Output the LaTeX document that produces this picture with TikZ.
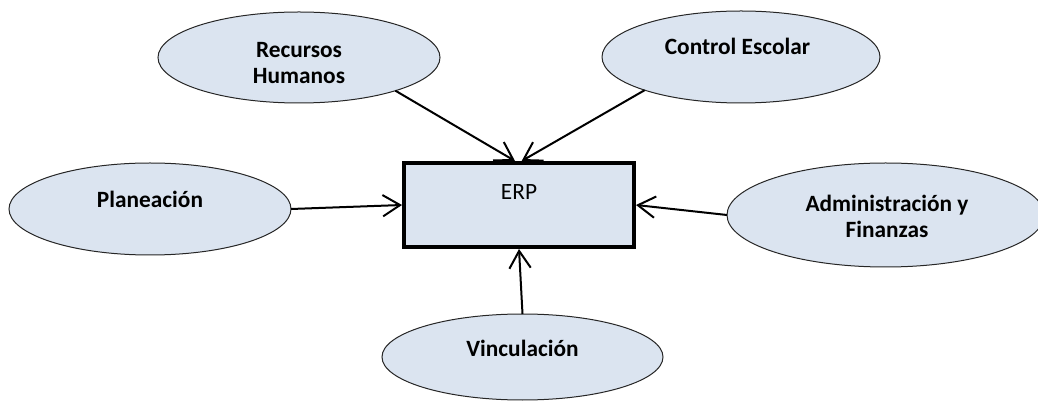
\documentclass[tikz,border=0pt]{standalone}
\usepackage{fontspec}
\setmainfont{Carlito}
\usetikzlibrary{arrows.meta,shapes.geometric}
\definecolor{fillblue}{HTML}{DBE4F0}
\begin{document}
\begin{tikzpicture}[x=0.75pt,y=-0.75pt,
  bubble/.style={ellipse,draw=black!85,line width=0.75pt,fill=fillblue,inner sep=0pt,outer sep=0pt},
  lbl/.style={font=\fontsize{17.5}{19.5}\selectfont\bfseries,inner sep=0pt,anchor=base,align=center},
  erplbl/.style={font=\fontsize{17.5}{19.5}\selectfont,inner sep=0pt,anchor=base},
  conn/.style={line width=1.5pt,-{Straight Barb[length=13pt,width=16pt]}},
  erpbox/.style={rectangle,draw=black,line width=3pt,fill=fillblue,minimum width=172.5pt,minimum height=63pt,inner sep=0pt}]
\clip (0,0) rectangle (1038,402);
% ellipses
\node[bubble,minimum width=211.5pt,minimum height=68.25pt] (rh) at (299,57.5) {};
\node[bubble,minimum width=208.5pt,minimum height=69pt] (ce) at (741,57) {};
\node[bubble,minimum width=211.5pt,minimum height=69pt] (pl) at (150,209) {};
\node[bubble,minimum width=237.9pt,minimum height=78pt] (ad) at (885.6,215) {};
\node[bubble,minimum width=210.75pt,minimum height=64.5pt] (vi) at (522.5,357) {};
% central box
\node[erpbox] (erp) at (519,205) {};
% labels (base = baseline of the last line)
\node[lbl] (rht) at (299,83.3) {Recursos\\Humanos};
\node[lbl] (cet) at (737.5,55) {Control Escolar};
\node[lbl] (plt) at (150,208) {Planeación};
\node[lbl] (adt) at (887,237.7) {Administración y\\Finanzas};
\node[lbl] (vit) at (522.5,357) {Vinculación};
\node[erplbl] (erpt) at (519,200) {ERP};
% connectors
\draw[conn] (rh.-19) -- ([xshift=-3pt]erp.north);
\draw[conn] (ce.199) -- ([xshift=2pt]erp.north);
\draw[conn] (pl.east) -- (erp.west);
\draw[conn] (ad.west) -- (erp.east);
\draw[conn] (vi.north) -- (erp.south);
\end{tikzpicture}
\end{document}
